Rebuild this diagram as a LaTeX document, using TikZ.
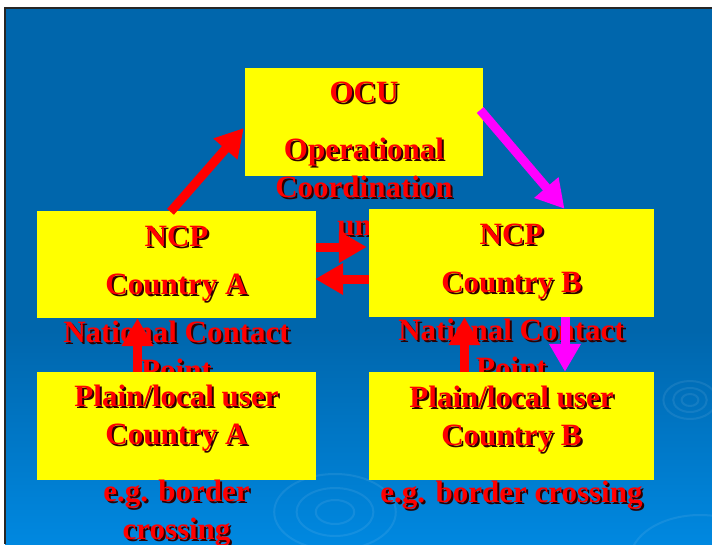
\documentclass[tikz,border=0pt]{standalone}
\usepackage{fontspec}
\setmainfont{Liberation Serif}
\usetikzlibrary{calc,arrows.meta}
\definecolor{slidetop}{RGB}{0,102,172}
\definecolor{slidebot}{RGB}{0,136,224}
\definecolor{boxyellow}{RGB}{255,255,0}
\definecolor{txtred}{RGB}{255,0,0}
\definecolor{lnkmag}{RGB}{255,0,255}
\definecolor{shadowc}{RGB}{45,0,0}
% red text with a dark drop shadow
\newcommand{\sh}[1]{\rlap{\kern2pt\raisebox{-2pt}{\color{shadowc}#1}}#1}
\tikzset{
  panel/.style   = {fill=boxyellow, inner sep=0pt, minimum height=108pt},
  boxtext/.style = {text=txtred, font=\fontsize{31}{38}\selectfont\bfseries,
                    align=center, inner sep=0pt, anchor=base},
  redlink/.style = {draw=txtred, line width=9pt, -{Triangle[length=28pt,width=30pt]}},
  maglink/.style = {draw=lnkmag, line width=9pt, -{Triangle[length=28pt,width=30pt]}},
  ripple/.style  = {draw=white, opacity=0.08, line width=2pt},
}

\begin{document}
\begin{tikzpicture}[x=1pt, y=-1pt]
\useasboundingbox (0,0) rectangle (712,544);
\clip (0,0) rectangle (712,544);
% slide background
\fill[white] (0,0) rectangle (712,544);
\fill[slidetop] (5,8) rectangle (712,330);
\shade[top color=slidetop, bottom color=slidebot] (5,330) rectangle (712,544);
\draw[black!85, line width=2pt] (5,544) -- (5,8) -- (712,8);
% ripples
\foreach \r in {12,24,38} {
  \draw[ripple] (335,512) ellipse ({1.6*\r} and {\r});
  \draw[ripple] (690,400) ellipse ({1.4*\r/2} and {\r/2});
}
\draw[ripple] (700,560) ellipse (70 and 45);
% OCU (base = last line)
\node[panel, minimum width=238pt] (ocu) at (364,122) {};
\node[boxtext] (ocuTxt) at (364,235)
  {\sh{OCU}\\[19pt]\sh{Operational}\\\sh{Coordination}\\\sh{unit}};
% NCP row
\node[panel, minimum width=279pt, minimum height=107pt] (ncpA) at (176.5,264.5) {};
\node[boxtext] (ncpATxt) at (176.5,380)
  {\sh{NCP}\\[10pt]\sh{Country A}\\[10pt]\sh{National Contact}\\\sh{Point}};
\node[panel, minimum width=285pt] (ncpB) at (511.5,263) {};
\node[boxtext] (ncpBTxt) at (511.5,378)
  {\sh{NCP}\\[10pt]\sh{Country B}\\[10pt]\sh{National Contact}\\\sh{Point}};
% local users
\node[panel, minimum width=279pt] (userA) at (176.5,426) {};
\node[boxtext] (userATxt) at (176.5,539)
  {\sh{Plain/local user}\\\sh{Country A}\\[19pt]\sh{e.g. border}\\\sh{crossing}};
\node[panel, minimum width=285pt] (userB) at (511.5,426) {};
\node[boxtext] (userBTxt) at (511.5,502)
  {\sh{Plain/local user}\\\sh{Country B}\\[19pt]\sh{e.g. border crossing}};
% links
\draw[redlink] ($(ncpA.north)+(-6,1)$) -- ($(ocu.west)+(-1,6)$);
\draw[maglink] ($(ocu.east)+(-3,-12)$) -- ($(ncpB.north)+(53,0)$);
\draw[redlink] ($(ncpA.east)+(0,-17.5)$) -- ($(ncpB.west)+(-2,-16)$);
\draw[redlink] ($(ncpB.west)+(0,16)$) -- ($(ncpA.east)+(-1,14.5)$);
\draw[redlink] ($(userA.north)+(-39,0)$) -- ($(ncpA.south)+(-39,0)$);
\draw[redlink] ($(userB.north)+(-47,0)$) -- ($(ncpB.south)+(-47,0)$);
\draw[maglink] ($(ncpB.south)+(53.5,0)$) -- ($(userB.north)+(53.5,0)$);
\end{tikzpicture}
\end{document}
